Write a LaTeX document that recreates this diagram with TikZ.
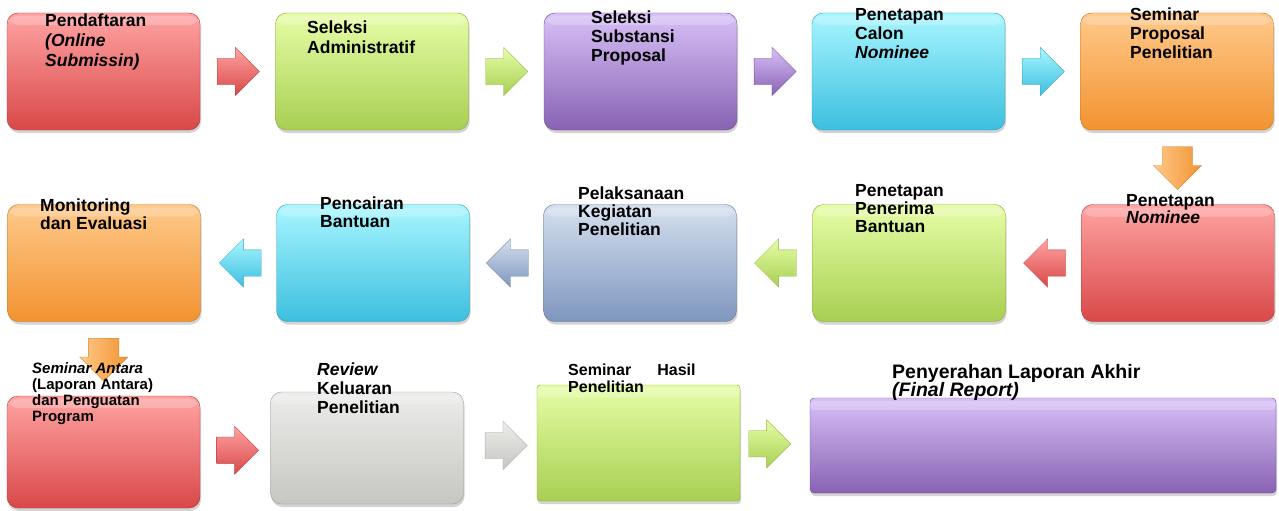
\documentclass[tikz,border=0pt]{standalone}
\usepackage{fontspec}
\setmainfont{Liberation Sans}
\usetikzlibrary{shapes.arrows,shadows,calc}

\definecolor{redtop}{HTML}{FFA3A3}
\definecolor{redbot}{HTML}{D94848}
\definecolor{greentop}{HTML}{E6FDA6}
\definecolor{greenbot}{HTML}{A8CF52}
\definecolor{purpletop}{HTML}{D8C0F8}
\definecolor{purplebot}{HTML}{8862B2}
\definecolor{cyantop}{HTML}{A8F6FF}
\definecolor{cyanbot}{HTML}{3DBFDF}
\definecolor{orangetop}{HTML}{FFC98A}
\definecolor{orangebot}{HTML}{F29330}
\definecolor{bluetop}{HTML}{D5E0EE}
\definecolor{bluebot}{HTML}{7E96BE}
\definecolor{graytop}{HTML}{ECECEA}
\definecolor{graybot}{HTML}{C6C6C2}

\newcommand{\tightlines}{\lineskiplimit=-20pt\relax}

\begin{document}
\begin{tikzpicture}[x=1pt,y=-1pt,
	stepbox/.style={rounded corners=11pt,draw=#1bot!80!black,line width=0.4pt,
		top color=#1top,bottom color=#1bot,inner sep=0pt,
		minimum width=193pt,minimum height=117pt,
		drop shadow={opacity=0.35,shadow xshift=1pt,shadow yshift=-3pt},
		path picture={\fill[white,opacity=0.22] ([yshift=-3pt]path picture bounding box.north west) rectangle ([yshift=-12pt]path picture bounding box.north east);}},
	blockarr/.style={single arrow,single arrow head extend=11pt,inner xsep=0pt,inner ysep=13pt,
		minimum height=42pt,draw=#1bot!85!black,line width=0.3pt,
		top color=#1top,bottom color=#1bot},
	downarr/.style={blockarr=#1,inner xsep=15pt,inner ysep=0pt,single arrow head extend=9pt,
		minimum height=43pt,shape border rotate=270,left color=#1top,right color=#1bot},
	lbl/.style={anchor=north west,inner sep=0pt,align=left,
		font=\bfseries\fontsize{17.5}{19}\selectfont}]
	\useasboundingbox (0,0) rectangle (1279,511);
	% first row
	\node[stepbox=red] (daftar) at (103.5,71.5) {};
	\node[stepbox=green] (adm) at (372,71.5) {};
	\node[stepbox=purple] (subst) at (640.5,71.5) {};
	\node[stepbox=cyan] (calon) at (908.5,71.5) {};
	\node[stepbox=orange] (sempro) at (1177,71.5) {};
	% second row
	\node[stepbox=orange] (monev) at (104,263) {};
	\node[stepbox=cyan] (cair) at (373,263) {};
	\node[stepbox=blue] (laksana) at (640,263) {};
	\node[stepbox=green] (terima) at (909,263) {};
	\node[stepbox=red] (nominee) at (1178,263) {};
	% third row
	\node[stepbox=red,minimum height=112pt] (antara) at (103.5,452) {};
	\node[stepbox=gray,minimum height=112pt] (review) at (367,448) {};
	\node[stepbox=green,rounded corners=3pt,minimum width=203pt,minimum height=116pt] (hasil) at (638.5,443) {};
	\node[stepbox=purple,rounded corners=4pt,minimum width=466pt,minimum height=95pt] (akhir) at (1043,445.5) {};
	% arrows
	\node[blockarr=red] (a1) at ($(daftar.east)!.42!(adm.west)$) {};
	\node[blockarr=green] (a2) at ($(adm.east)!.42!(subst.west)$) {};
	\node[blockarr=purple] (a3) at ($(subst.east)!.42!(calon.west)$) {};
	\node[blockarr=cyan] (a4) at ($(calon.east)!.42!(sempro.west)$) {};
	\node[downarr=orange] (a5) at ($(sempro.south)!.41!(nominee.north)$) {};
	\node[blockarr=red,shape border rotate=180] (a6) at ($(nominee.west)!.4!(terima.east)$) {};
	\node[blockarr=green,shape border rotate=180] (a7) at ($(terima.west)!.4!(laksana.east)$) {};
	\node[blockarr=blue,shape border rotate=180] (a8) at ($(laksana.west)!.4!(cair.east)$) {};
	\node[blockarr=cyan,shape border rotate=180] (a9) at ($(cair.west)!.39!(monev.east)$) {};
	\node[downarr=orange] (a10) at ($(monev.south)!.41!(antara.north)$) {};
	\node[blockarr=red] (a11) at ($(antara.east)!.44!(review.west)$) {};
	\node[blockarr=gray] (a12) at ($(review.east)!.49!(hasil.west)$) {};
	\node[blockarr=green] (a13) at ($(hasil.east)!.33!(akhir.west)$) {};
	% labels
	\node[lbl,font=\bfseries\fontsize{17.5}{20}\selectfont] (tdaftar) at (45,13.4) {Pendaftaran\\\textit{(Online}\\\textit{Submissin)}};
	\node[lbl,font=\bfseries\fontsize{17.5}{20}\selectfont] (tadm) at (307,20.4) {Seleksi\\Administratif};
	\node[lbl] (tsubst) at (591,10.4) {Seleksi\\Substansi\\Proposal};
	\node[lbl] (tcalon) at (855,8.4) {Penetapan\\Calon\\\textit{Nominee}};
	\node[lbl] (tsempro) at (1130,7.4) {Seminar\\Proposal\\Penelitian};
	\node[lbl,font=\bfseries\fontsize{17.5}{18}\selectfont] (tmonev) at (40,198.4) {Monitoring\\dan Evaluasi};
	\node[lbl,font=\bfseries\fontsize{17.5}{18}\selectfont] (tcair) at (320,196.4) {Pencairan\\Bantuan};
	\node[lbl,font=\bfseries\fontsize{17.5}{18}\selectfont] (tlaksana) at (578,186.4) {Pelaksanaan\\Kegiatan\\Penelitian};
	\node[lbl,font=\bfseries\fontsize{17.5}{18}\selectfont] (tterima) at (855,184.4) {Penetapan\\Penerima\\Bantuan};
	\node[lbl,font=\bfseries\fontsize{17.5}{17}\selectfont] (tnominee) at (1126,194.4) {Penetapan\\\textit{Nominee}};
	\node[lbl,font=\bfseries\fontsize{15}{16}\selectfont] (tantara) at (32,362) {\textit{Seminar Antara}\\(Laporan Antara)\\dan Penguatan\\Program};
	\node[lbl] (treview) at (317,362.4) {\textit{Review}\\Keluaran\\Penelitian};
	\node[lbl,font=\bfseries\fontsize{16}{17}\selectfont] (thasil) at (568,363.3) {Seminar\hspace{26pt}Hasil\\Penelitian};
	\node[lbl,font=\bfseries\fontsize{19.5}{18.5}\selectfont\tightlines] (takhir) at (892,364) {Penyerahan Laporan Akhir\\\textit{(Final Report)}};
\end{tikzpicture}
\end{document}
